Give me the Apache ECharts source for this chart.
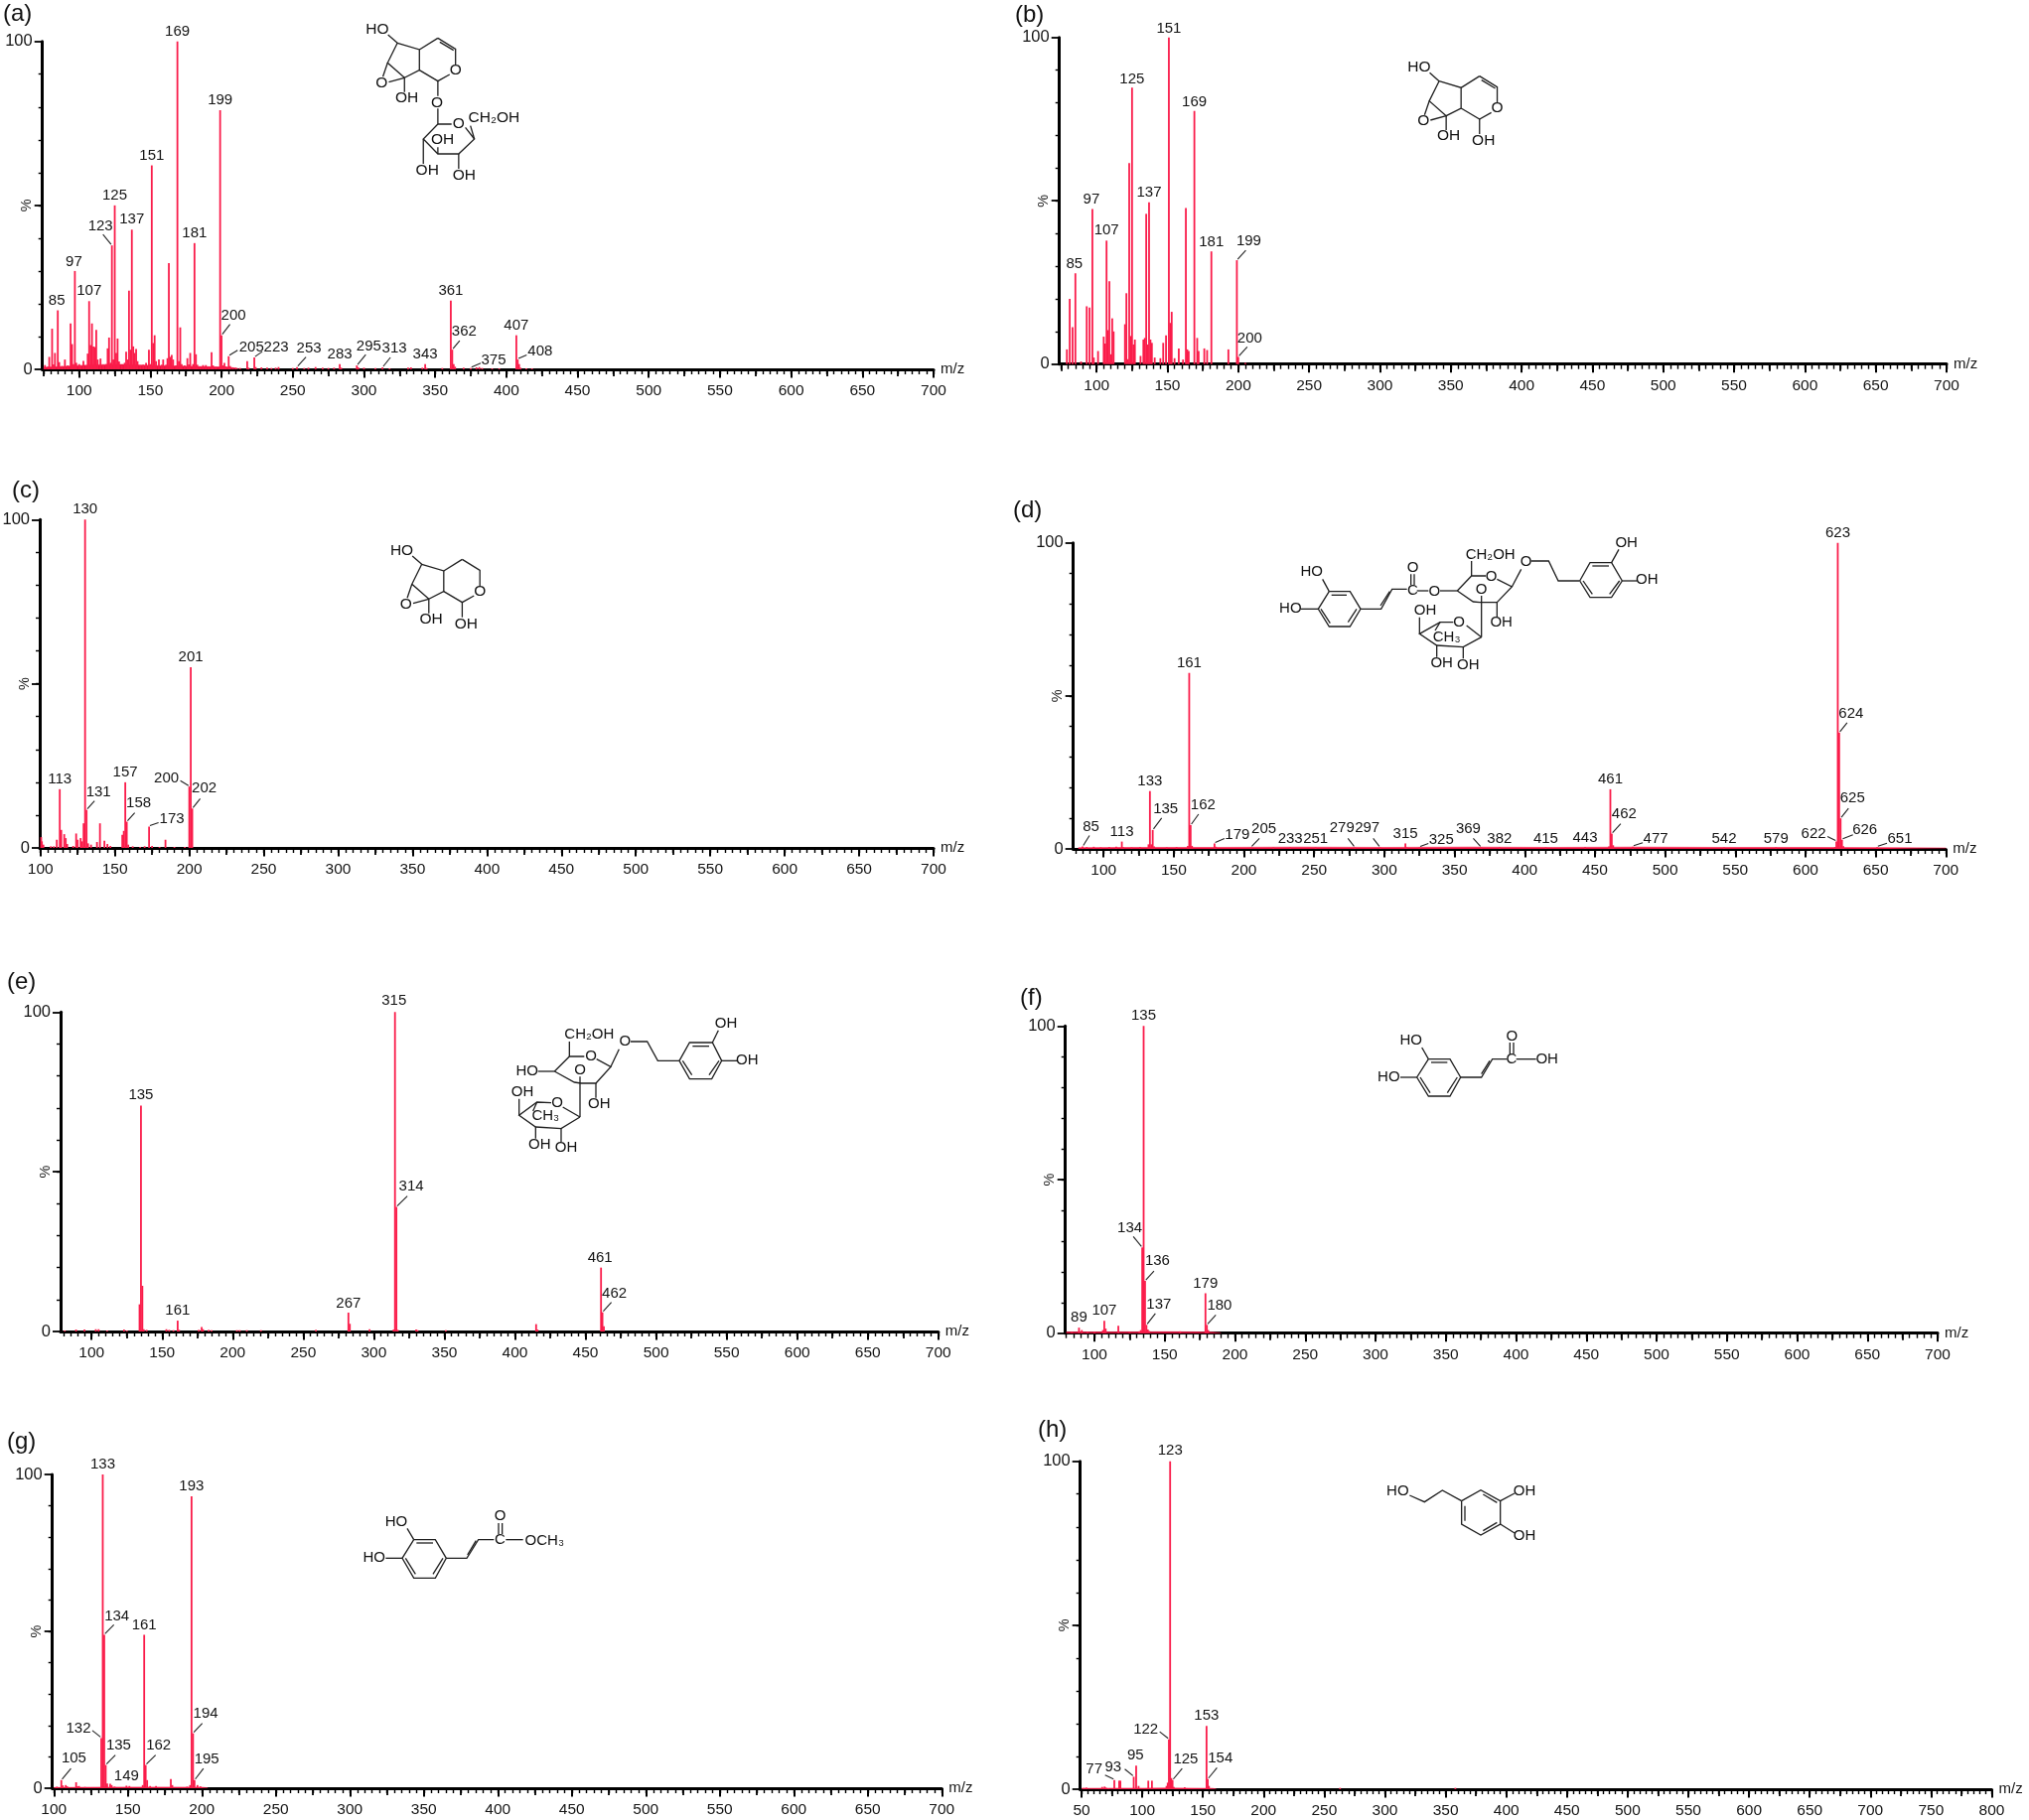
<!DOCTYPE html>
<html><head><meta charset="utf-8"><title>MS/MS spectra</title>
<style>html,body{margin:0;padding:0;background:#fff}#c{width:2043px;height:1833px}</style>
<script src="https://cdn.jsdelivr.net/npm/echarts@6/dist/echarts.min.js"></script>
</head><body><div id="c"></div>
<script>
// ---------- DATA: [m/z, relative intensity %] ----------
const panelA_peaks=[[76,1.3],[78,.8],[79,3.8],[81,12.4],[82,1.5],[83,5],[85,18],[86,2.2],[88,1],[90,3],[92,1.2],[94,14],[95,7.7],[96,1.6],[97,30],[98,2],[100,1.6],[101,1],[103,2.6],[105,1.2],[106,4.8],[107,20.8],[108,7.4],[109,14],[110,7],[111,6.8],[112,12],[113,3],[115,3.3],[117,1.4],[119,1.6],[120,6.4],[121,9.7],[122,2],[123,37.8],[124,3],[125,50],[126,5],[127,9.4],[128,2.4],[130,1.2],[132,2],[133,5.4],[134,3],[135,24],[136,6],[137,42.6],[138,7],[139,5],[140,6.2],[141,2.5],[143,1.2],[145,1.4],[147,2],[149,6],[150,1.6],[151,62.2],[152,8],[153,10.4],[154,2.5],[156,3],[158,1.4],[159,3],[161,1.4],[162,3.4],[163,32.4],[164,3.8],[165,4.4],[166,3],[168,1.2],[169,100],[170,2.5],[171,12.8],[172,1.6],[174,1.2],[176,3.4],[177,1.5],[178,5],[180,1.6],[181,38.5],[182,4.6],[183,1.4],[185,.9],[187,1.3],[189,1.3],[191,.8],[193,5.2],[194,1.2],[196,.7],[199,79],[200,10.4],[201,1.2],[202,2],[203,.9],[205,4],[206,1],[208,.6],[210,.5],[213,.4],[218,2.5],[219,.5],[223,3.6],[224,.7],[228,.6],[232,.5],[235,.4],[238,.5],[240,.7],[250,.4],[253,.7],[258,.4],[261,.5],[266,.7],[271,.5],[275,.4],[279,.5],[283,1.6],[284,.5],[295,1.2],[296,.6],[300,.5],[308,.4],[313,.6],[318,.3],[331,.5],[333,.6],[341,.5],[343,1.6],[344,.4],[355,.4],[361,21],[362,6],[363,1.6],[364,.8],[370,.5],[375,.4],[379,.6],[381,.7],[383,.4],[390,.3],[395,.3],[407,10.4],[408,3],[409,1.6],[410,.5],[414,.3],[418,.3]];
const panelA_floor=[[75,.6],[90,.9],[110,1.4],[130,1.5],[150,1.2],[170,1],[190,.8],[205,.7],[212,.2]];
const panelA_labels=[85,97,107,123,125,137,151,169,181,199,200,205,223,253,283,295,313,343,361,362,375,407,408];

const panelB_peaks=[[79,4.5],[81,20],[83,11.3],[85,27.8],[89,.8],[93,17.7],[95,17.3],[97,47.5],[98,2],[101,4],[105,8.4],[106,6.3],[107,37.8],[108,10.4],[109,25.4],[110,3],[111,14],[112,10],[120,12.2],[121,21.7],[122,1.5],[123,61.5],[124,8.6],[125,84.6],[126,6],[127,7.5],[131,2.5],[133,7.5],[134,8],[135,46],[136,6],[137,49.5],[138,7.5],[139,6.5],[141,2],[145,1.8],[147,6.5],[149,8.8],[151,100],[152,12.6],[153,16],[155,1.8],[158,4.8],[161,1.4],[163,47.8],[164,4.5],[165,4],[169,77.5],[171,8],[172,4],[176,4.8],[178,4.3],[181,34.5],[193,4.5],[199,31.8],[200,2.2],[205,.4]];
const panelB_labels=[85,97,107,125,137,151,169,181,199,200];

const panelC_peaks=[[100.5,3.3],[101,2],[102,1],[107,.5],[109,.5],[111,2.5],[113,17.9],[114,5.5],[116,4.2],[117,3],[118,1.2],[122,.6],[124,4.4],[125,2.5],[127,3],[129,7.5],[130,100],[128,2],[131,11.6],[132,1.4],[134,1],[138,1.8],[140,7.5],[143,2.2],[145,1.2],[147,.6],[155,4],[156,5.2],[157,20],[158,8],[159,1],[162,.5],[167,.3],[170,.5],[173,6.5],[175,.6],[180,.3],[184,2.5],[190,.3],[197,.3],[200,18.7],[201,55],[202,12]];
const panelC_labels=[113,130,131,157,158,173,200,201,202];

const panelD_peaks=[[85,.8],[88,.6],[93,.7],[98,.5],[104,.6],[109,.7],[113,2.4],[114,.6],[120,.5],[126,.6],[132,1.5],[133,18.9],[134,1.5],[135,6.2],[136,.8],[145,.5],[152,.6],[160,1],[161,57.5],[162,7.8],[163,1],[179,1.8],[180,.7],[205,.5],[221,.5],[233,.5],[251,.5],[279,.5],[297,.5],[315,1.8],[316,.5],[325,.5],[369,.5],[382,.5],[415,.5],[443,.6],[460,.8],[461,19.5],[462,5],[463,1.2],[477,.7],[542,.5],[579,.5],[621,.6],[622,2.4],[623,100],[624,38],[625,10],[626,3],[627,.9],[651,.6]];
const panelD_floor=[[82,.4],[120,.5],[180,.5],[240,.6],[300,.5],[360,.6],[420,.5],[480,.6],[540,.5],[600,.5],[660,.4],[700,.3]];
const panelD_labels=[85,113,133,135,161,162,179,205,233,251,279,297,315,325,369,382,415,443,461,462,477,542,579,622,623,624,625,626,651];

const panelE_peaks=[[81,.3],[89,.6],[95,.6],[103,.7],[105,.7],[111,.3],[123,.6],[125,.3],[134,8.5],[135,70.7],[136,14.3],[137,.7],[139,.5],[153,.7],[155,.5],[158,.4],[161,3.4],[162,.5],[176,.5],[178,1.4],[179,.7],[183,.5],[185,.4],[203,.4],[205,.4],[210,.4],[220,.4],[259,.5],[282,5.9],[283,2.4],[297,.7],[314,.6],[315,100],[316,39],[317,.5],[330,.6],[331,.4],[351,.4],[415,2.3],[416,.6],[461,20],[462,6],[463,1.6]];
const panelE_labels=[135,161,[282,'267'],315,[316,'314'],461,462];

const panelF_peaks=[[84,.4],[89,1.8],[91,1],[95,.4],[100,.4],[106,1],[107,4],[108,1.5],[117,2.4],[125,.4],[132,.6],[133,1],[134,27.9],[135,100],[136,17],[137,2.7],[138,1.2],[139,.7],[161,.6],[179,13],[180,2.7],[181,1]];
const panelF_floor=[[80,.35],[110,.4],[130,.4],[150,.45],[170,.4],[184,.3],[190,.1]];
const panelF_labels=[89,107,134,135,136,137,179,180];

const panelG_peaks=[[102,.5],[105,2.6],[106,.9],[108,1],[109,.6],[115,1.9],[116,.6],[117,.7],[121,.4],[132,16],[133,100],[134,48.9],[135,7.4],[136,1.5],[138,1.4],[139,1],[141,.5],[149,.8],[151,.7],[160,1],[161,48.9],[162,7.4],[163,2.6],[165,.7],[169,.7],[179,2.9],[180,1],[190,.5],[192,1],[193,93],[194,17.5],[195,2.6],[197,1],[199,.6]];
const panelG_floor=[[100,.2],[125,.3],[150,.35],[175,.35],[200,.3],[204,.1]];
const panelG_labels=[105,132,133,134,135,149,161,162,193,194,195];

const panelH_peaks=[[52,.4],[54,.5],[67,.7],[69,.8],[70,.5],[72,.3],[77,2.8],[81,2.6],[82,2.6],[93,3.8],[95,7.2],[97,1],[105,2.6],[108,2.6],[120,1],[121,2],[122,15.2],[123,100],[124,3.4],[125,2.8],[126,.7],[135,.6],[153,19.3],[154,3.1],[155,1],[263,.4],[358,.4]];
const panelH_floor=[[50,.25],[80,.3],[100,.3],[120,.35],[140,.3],[158,.25],[161,.05]];
const panelH_labels=[77,93,95,122,123,125,153,154];

// ---------- PANEL GEOMETRY (page pixels) ----------
const panels=[
 {id:'a',letter:'(a)',lx:3,ly:14, axisX:42.7,top:41.7,y0:371,  x1:79.7,  v1:100,x2:940,   v2:700,first:75, peaks:panelA_peaks,floor:panelA_floor,labels:panelA_labels},
 {id:'b',letter:'(b)',lx:1022,ly:15, axisX:1066.7,top:37.7,y0:365.7,x1:1104.2,v1:100,x2:1960,v2:700,first:75, peaks:panelB_peaks,floor:null,labels:panelB_labels},
 {id:'c',letter:'(c)',lx:12,ly:494, axisX:40,top:523.3,y0:853, x1:40.7,v1:100,x2:940,v2:700,first:100, peaks:panelC_peaks,floor:null,labels:panelC_labels},
 {id:'d',letter:'(d)',lx:1020,ly:514, axisX:1080.7,top:546.7,y0:854, x1:1111.2,v1:100,x2:1959.3,v2:700,first:80, peaks:panelD_peaks,floor:panelD_floor,labels:panelD_labels},
 {id:'e',letter:'(e)',lx:7,ly:989, axisX:61,top:1019.3,y0:1340, x1:92.2,v1:100,x2:944.8,v2:700,first:80, peaks:panelE_peaks,floor:null,labels:panelE_labels},
 {id:'f',letter:'(f)',lx:1027,ly:1005, axisX:1072.7,top:1033.3,y0:1341.7, x1:1102,v1:100,x2:1951,v2:700,first:80, peaks:panelF_peaks,floor:panelF_floor,labels:panelF_labels},
 {id:'g',letter:'(g)',lx:7,ly:1452, axisX:52.7,top:1485,y0:1800, x1:54.3,v1:100,x2:948.3,v2:700,first:100, peaks:panelG_peaks,floor:panelG_floor,labels:panelG_labels},
 {id:'h',letter:'(h)',lx:1045,ly:1440, axisX:1087.7,top:1471.7,y0:1801, x1:1089,v1:50,x2:2005.5,v2:800,first:50, peaks:panelH_peaks,floor:panelH_floor,labels:panelH_labels}
];

// Peak-label placement relative to the peak top, pixels: [dx,dy, leaderDx,leaderDy]
const labelNudge={
 a:{85:[-1,-10],97:[-1,-9],123:[-11.5,-19,-9,-11],200:[12,-20,8.5,-11],205:[23,-9,9,-6],223:[22,-10,8,-6],253:[12,-19,9,-10],295:[12,-19,9,-11],313:[12,-19,8,-10],362:[12,-18,7.5,-9],375:[23,-8,10,-5],408:[22.5,-8,9,-4.5]},
 b:{85:[-1,-9],97:[-1,-10],125:[0,-9],151:[0,-9],169:[0,-9],181:[0,-9],199:[12,-19,9,-10],200:[11.5,-19,9,-10]},
 c:{131:[12,-18,8,-9],158:[12,-19,8,-9],173:[23,-8,9.5,-4],200:[-23,-8,-9,-6],202:[12,-20,8,-10]},
 d:{85:[8.5,-20,7,-11],135:[13,-21,9,-12],162:[12.5,-20,8,-11],179:[23,-9,10,-5],205:[13,-19,8.5,-9],233:[0,-9],251:[0,-9],279:[-13,-20,-7,-9],297:[-13,-20,-7,-9],325:[22,-8,9,-4],369:[-13,-19,-8,-9],382:[0,-9],415:[0,-9],443:[0,-9],462:[12.5,-20,9,-10],477:[23,-8,10,-4],542:[0,-9],579:[0,-9],622:[-23,-8,-9,-5],624:[12,-19,8,-10],625:[12,-20,8,-10],626:[23,-10,11,-5],651:[23,-8,10,-4]},
 e:{135:[0,-11],267:[0,-9],315:[-1,-11],314:[15,-20.7,11,-11],461:[-1,-10],462:[12,-19,9,-10]},
 f:{134:[-12.5,-20,-9,-11],135:[0,-10.5],136:[12.5,-20,9,-10],137:[12.5,-20.5,9,-11.5],180:[12.7,-19,9,-10]},
 g:{105:[12.7,-21.7,9.7,-11.7],132:[-23,-10,-9,-7.5],133:[0,-10.5],134:[12.7,-19,9.7,-10],135:[13,-20,9.7,-10],162:[13,-20,10,-10],193:[0,-10.5],194:[12.7,-20,9.3,-10],195:[12.3,-21,9,-11.7]},
 h:{77:[-20.3,-10.7,-9.3,-5],93:[-20.7,-10,-9,-7.7],95:[-.7,-10.7],122:[-23.3,-10.3,-9.3,-7.7],123:[0,-10.7],125:[13.3,-20.7,9.7,-11.7],153:[0,-10.7],154:[12.7,-20.7,9.3,-11.3]}
};

// ---------- STYLE ----------
const FONT='"Liberation Sans", Arial, sans-serif';
const BAR='#fa1c4a', INK='#141414', BOND='#1e1e1e';

// ---------- STRUCTURES (sketch units; each has origin and scale) ----------
const iridoidBonds=[[988,105,1012,130],[1012,130,1068,150,1068,212,1030,235,987,190,1012,130],[987,190,975,232],[1030,235,990,248],[1068,150,1115,115],[1115,115,1160,148,1160,195],[1145,225,1115,245,1068,212],[1030,235,1030,278],[1115,245,1115,290]];
const iridoidText=[['HO',961,88],['O',972,250],['O',1160,212],['OH',1036,296]];
const dienePart=[[1120,127,1155,152]];
const structures=[
 {ox:0,oy:0,sx:1/2.529,sy:1/3,size:15.5,
  bonds:iridoidBonds.concat(dienePart,[[1115,328,1115,375,1150,375],[1185,385,1208,420,1168,465,1115,465,1078,420,1115,375],[1208,420,1198,380],[1115,465,1115,445],[1078,420,1078,495],[1168,465,1168,510]]),
  text:iridoidText.concat([['O',1113,310],['O',1168,375],['CH₂OH',1258,355],['OH',1127,422],['OH',1088,516],['OH',1182,530]])},
 {ox:1020+73/2.529,oy:115/3,sx:1/2.529,sy:1/3,size:15.5,bonds:iridoidBonds.concat(dienePart),text:iridoidText.concat([['OH',1125,310]])},
 {ox:62/2.529,oy:480+135/3,sx:1/2.529,sy:1/3,size:15.5,bonds:iridoidBonds,text:iridoidText.concat([['OH',1125,310]])},
 {ox:1270,oy:530,sx:1/3,sy:1/3,size:15,
  bonds:[[205,197,268,197,300,250,268,303,205,303,172,250,205,197],[212,208,258,208],[262,290,288,250],[180,250,208,293],[185,160,205,197],[118,250,172,250],[300,250,362,250,395,190,440,190],[360,240,388,197],[452,145,452,178],[462,145,462,178],[470,195,505,195],[540,195,592,195],[592,195,635,150,678,150],[712,160,757,183,712,230,660,230],[592,195,640,228,660,230],[635,150,635,105],[757,183,785,130],[712,230,712,275],[815,105,868,105,897,165,962,165],[665,210,665,335],[962,165,993,110,1058,110,1090,165,1058,215,993,215,962,165],[1000,120,1050,120],[1082,165,1052,205],[972,165,1000,205],[1058,110,1080,70],[1090,165,1135,165],[665,335,620,300],[580,290,540,290,478,325,530,360,610,365,665,335],[478,325,478,275],[530,360,530,395],[610,365,610,400],[540,290,525,315]],
  text:[['HO',152,137],['HO',88,250],['O',458,127],['C',457,195],['O',523,197],['CH₂OH',692,88],['O',695,153],['O',665,193],['O',800,107],['OH',1103,52],['OH',1165,163],['OH',495,255],['O',597,290],['CH₃',560,335],['OH',725,292],['OH',545,413],['OH',625,420]]},
 {ox:510,oy:1015,sx:1/3,sy:1/3,size:15,
  bonds:[[190,102,190,147,235,147],[272,155,315,178,270,228,225,228],[145,192,190,147],[145,192,205,225,225,228],[95,192,145,192],[315,178,340,125],[375,102,425,102,457,160,522,160],[522,160,553,105,622,105,650,160,620,215,553,215,522,160],[562,116,612,116],[642,160,612,203],[532,160,560,203],[622,105,640,68],[650,160,697,160],[270,228,270,272],[222,208,222,330],[222,330,170,300],[135,287,92,285,38,325,88,360,165,365,222,330],[38,325,38,275],[88,360,88,395],[165,365,165,405],[92,285,80,312]],
  text:[['CH₂OH',250,82],['O',358,102],['O',255,147],['O',222,190],['HO',62,192],['OH',663,48],['OH',727,158],['OH',48,255],['O',153,287],['CH₃',118,328],['OH',280,292],['OH',100,413],['OH',180,422]]},
 {ox:1380,oy:1030,sx:1/3,sy:1/3,size:15,
  bonds:[[175,110,240,110,272,165,240,222,175,222,140,165,175,110],[183,120,232,120],[262,165,232,212],[150,165,180,212],[155,75,175,110],[90,165,140,165],[272,165,335,165,368,110,412,110],[335,155,360,115],[421,60,421,95],[432,60,432,95],[440,110,500,110]],
  text:[['HO',122,55],['HO',55,165],['O',427,42],['C',426,112],['OH',533,112]]},
 {ox:360,oy:1510,sx:1/3,sy:1/3,size:15,
  bonds:[[170,122,235,122,268,178,235,238,170,238,135,178,170,122],[178,132,228,132],[258,178,228,226],[145,178,175,226],[150,88,170,122],[85,178,135,178],[268,178,330,178,365,122,412,122],[332,168,358,125],[426,72,426,105],[437,72,437,105],[448,122,500,122]],
  text:[['HO',117,68],['HO',50,178],['O',431,52],['C',430,122],['OCH₃',565,125]]},
 {ox:1020,oy:1430,sx:1/3,sy:1/3,size:15,
  bonds:[[1198,228,1243,248,1297,213,1355,245],[1355,245,1413,212,1472,245,1472,315,1413,348,1355,315,1355,245],[1420,225,1462,250],[1462,310,1420,335],[1365,260,1365,305],[1472,245,1515,222],[1472,315,1515,342]],
  text:[['HO',1162,215],['OH',1545,216],['OH',1545,350]]}
];
// ---------- BUILD ----------
function seq(a,b,s){const r=[];for(let v=a;v<=b;v+=s)r.push(v);return r;}
const grid=[],xAxis=[],yAxis=[],series=[],elements=[];
panels.forEach((p,i)=>{
 const per=(p.x2-p.x1)/(p.v2-p.v1);
 const minV=p.v1-(p.x1-p.axisX)/per;
 grid.push({left:p.axisX,top:p.top,width:(p.v2-minV)*per,height:p.y0-p.top+1,containLabel:false,outerBoundsMode:'none'});
 const base={type:'value',gridIndex:i,position:'bottom',min:minV,max:p.v2,splitLine:{show:false},axisPointer:{show:false}};
 const line={lineStyle:{color:'#000',width:3}};
 const major=seq(p.first%50===0?p.first:p.first+50-p.first%50,p.v2,50);
 xAxis.push({...base,name:'m/z',nameLocation:'end',nameGap:7,nameMoveOverlap:false,nameTextStyle:{fontFamily:FONT,fontSize:15,color:INK,padding:[11,0,0,0],align:'left'},
   axisLine:{show:true,onZero:false,...line},
   axisTick:{show:true,length:8.5,customValues:major,lineStyle:{color:'#000',width:2}},
   axisLabel:{show:true,customValues:major,formatter:v=>String(Math.round(v)),margin:14,fontFamily:FONT,fontSize:15.5,color:INK,hideOverlap:false,showMinLabel:true,showMaxLabel:true}});
 xAxis.push({...base,axisLine:{show:false},axisLabel:{show:false},axisTick:{show:true,length:7,customValues:seq(p.first-p.first%25,p.v2,25).filter(v=>v>=p.first),lineStyle:{color:'#000',width:1.8}}});
 xAxis.push({...base,axisLine:{show:false},axisLabel:{show:false},axisTick:{show:true,length:5,customValues:seq(p.first,p.v2,5),lineStyle:{color:'#000',width:1.4}}});
 const yBase={type:'value',gridIndex:i,position:'left',min:0,max:100,splitLine:{show:false},axisPointer:{show:false}};
 yAxis.push({...yBase,name:'%',nameLocation:'middle',nameGap:8,nameRotate:90,nameMoveOverlap:false,nameTextStyle:{fontFamily:FONT,fontSize:14.5,color:INK},
   axisLine:{show:true,onZero:false,...line},
   axisTick:{show:true,length:8,customValues:[0,50,100],lineStyle:{color:'#000',width:1.8}},
   axisLabel:{show:true,customValues:[0,100],margin:10,fontFamily:FONT,fontSize:16.5,color:INK}});
 yAxis.push({...yBase,axisLine:{show:false},axisLabel:{show:false},axisTick:{show:true,length:4,customValues:seq(10,90,10),lineStyle:{color:'#000',width:1.4}}});

 const xi=i*3, yi=i*2;
 if(p.floor) series.push({type:'line',name:p.id+' floor',xAxisIndex:xi,yAxisIndex:yi,data:p.floor,symbol:'none',silent:true,animation:false,lineStyle:{color:BAR,width:.6},areaStyle:{color:'#f01040',opacity:1},z:2});
 series.push({type:'bar',name:p.id+' peaks',xAxisIndex:xi,yAxisIndex:yi,data:p.peaks,barWidth:1.8,silent:true,animation:false,itemStyle:{color:BAR},z:3});

 const labelList=p.labels.map(l=>Array.isArray(l)?{mz:l[0],text:l[1]}:{mz:l,text:String(l)});
 const labelData=labelList.map(l=>{const hit=p.peaks.find(q=>q[0]===l.mz);return [l.mz,hit?hit[1]:0];});
 const nudges=labelNudge[p.id]||{};
 series.push({type:'custom',name:p.id+' labels',xAxisIndex:xi,yAxisIndex:yi,data:labelData,clip:false,silent:true,animation:false,z:5,
   encode:{x:0,y:1},
   renderItem:(params,api)=>{
     const pt=api.coord([api.value(0),api.value(1)]);
     const t=labelList[params.dataIndex].text;
     const n=nudges[t]||[0,-10];
     const kids=[{type:'text',style:{text:t,x:pt[0]+n[0],y:pt[1]+n[1],align:'center',verticalAlign:'middle',font:'15px '+FONT,fill:INK}}];
     if(n.length>2) kids.push({type:'line',shape:{x1:pt[0]+(n[2]>0?.8:-.8),y1:pt[1]-1,x2:pt[0]+n[2],y2:pt[1]+n[3]},style:{stroke:'#222',lineWidth:1.1}});
     return {type:'group',children:kids};
   }});
 elements.push({type:'text',silent:true,style:{text:p.letter,x:p.lx,y:p.ly,align:'left',verticalAlign:'middle',font:'24px '+FONT,fill:'#111'}});
});
structures.forEach(s=>{
 const X=v=>s.ox+v*s.sx, Y=v=>s.oy+v*s.sy;
 s.bonds.forEach(b=>{
   const pts=[];for(let k=0;k<b.length;k+=2)pts.push([X(b[k]),Y(b[k+1])]);
   elements.push({type:'polyline',silent:true,shape:{points:pts},style:{stroke:BOND,lineWidth:1.3,fill:'none'}});
 });
 s.text.forEach(t=>elements.push({type:'text',silent:true,style:{text:t[0],x:X(t[1]),y:Y(t[2]),align:'center',verticalAlign:'middle',font:s.size+'px '+FONT,fill:'#111'}}));
});

const chart=echarts.init(document.getElementById('c'),null,{renderer:'canvas',width:2043,height:1833});
chart.setOption({animation:false,backgroundColor:'#fff',tooltip:{show:false},grid,xAxis,yAxis,series,graphic:{elements}});
</script></body></html>
